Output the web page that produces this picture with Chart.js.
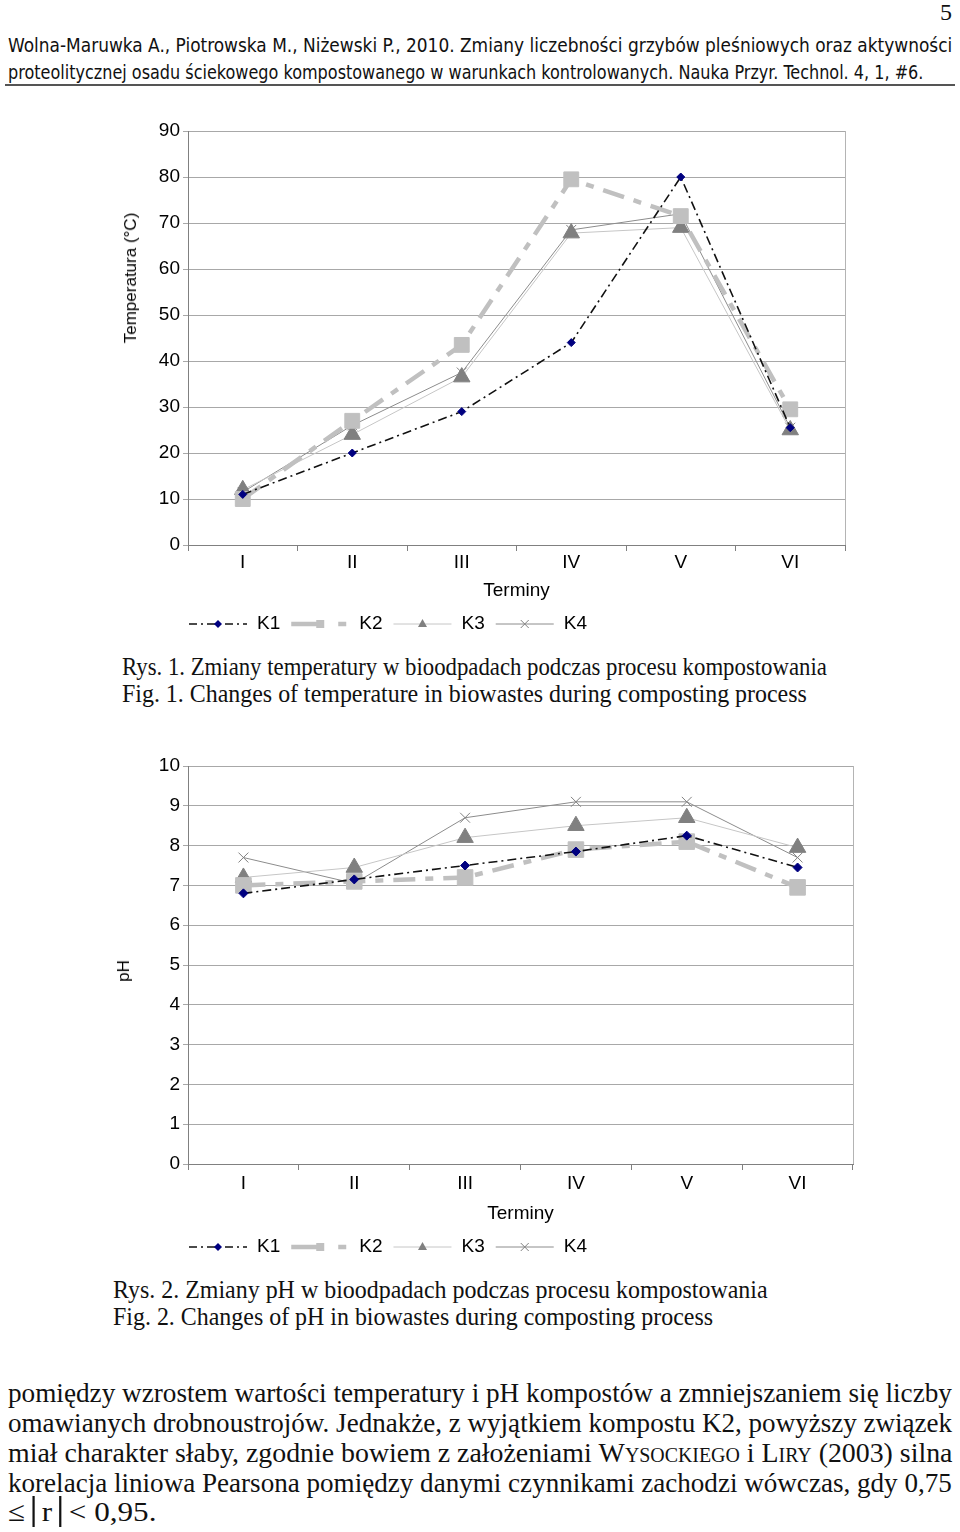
<!DOCTYPE html>
<html>
<head>
<meta charset="utf-8">
<script src="https://cdn.jsdelivr.net/npm/chart.js@4"></script>
<style>
html, body { margin: 0; padding: 0; background: #fff; }
#page { position: relative; width: 960px; height: 1532px; overflow: hidden; background: #fff; }
.ln { position: absolute; white-space: nowrap; transform-origin: 0 50%; line-height: 1; color: #111; }
.hdr { font-family: "Liberation Sans Narrow", "DejaVu Sans Condensed", "Liberation Sans", sans-serif; font-size: 19px; }
.ser { font-family: "Liberation Serif", "Times New Roman", serif; }
.cap { font-size: 25px; }
.par { font-size: 28px; }
.sc { font-variant: small-caps; }
.abs { position: absolute; }
.ytitle { position: absolute; font-family: "Liberation Sans", Arial, sans-serif; font-size: 17px; color: #000;
          white-space: nowrap; transform: translate(-50%, -50%) rotate(-90deg); }
</style>
</head>
<body>
<div id="page">
  <div class="ln ser" style="left:940px;top:12px;font-size:24px;">5</div>
  <div class="ln hdr" data-w="944" style="left:8px;top:45px;">Wolna-Maruwka A., Piotrowska M., Niżewski P., 2010. Zmiany liczebności grzybów pleśniowych oraz aktywności</div>
  <div class="ln hdr" data-w="915" style="left:8px;top:72px;">proteolitycznej osadu ściekowego kompostowanego w warunkach kontrolowanych. Nauka Przyr. Technol. 4, 1, #6.</div>
  <div class="abs" style="left:5px;top:84px;width:950px;height:2px;background:#555;"></div>

  <canvas id="tempChart" class="abs" width="960" height="550" style="left:0;top:100px;"></canvas>
  <div class="ytitle" style="left:131px;top:278px;">Temperatura (°C)</div>

  <div class="ln ser cap" data-w="705" style="left:122px;top:666px;">Rys. 1. Zmiany temperatury w bioodpadach podczas procesu kompostowania</div>
  <div class="ln ser cap" data-w="685" style="left:122px;top:693px;">Fig. 1. Changes of temperature in biowastes during composting process</div>

  <canvas id="phChart" class="abs" width="960" height="545" style="left:0;top:730px;"></canvas>
  <div class="ytitle" style="left:124px;top:971px;">pH</div>

  <div class="ln ser cap" data-w="655" style="left:113px;top:1289px;">Rys. 2. Zmiany pH w bioodpadach podczas procesu kompostowania</div>
  <div class="ln ser cap" data-w="600" style="left:113px;top:1316px;">Fig. 2. Changes of pH in biowastes during composting process</div>

  <div class="ln ser par" data-w="944" style="left:8px;top:1393px;">pomiędzy wzrostem wartości temperatury i pH kompostów a zmniejszaniem się liczby</div>
  <div class="ln ser par" data-w="944" style="left:8px;top:1423px;">omawianych drobnoustrojów. Jednakże, z wyjątkiem kompostu K2, powyższy związek</div>
  <div class="ln ser par" data-w="944" style="left:8px;top:1453px;">miał charakter słaby, zgodnie bowiem z założeniami <span class="sc">Wysockiego</span> i <span class="sc">Liry</span> (2003) silna</div>
  <div class="ln ser par" data-w="944" style="left:8px;top:1483px;">korelacja liniowa Pearsona pomiędzy danymi czynnikami zachodzi wówczas, gdy 0,75</div>
  <div class="ln ser par" data-w="149" style="left:8px;top:1512px;">≤ <span style="border-left:2px solid #111;border-right:2px solid #111;padding:0 6px;">r</span> &lt; 0,95.</div>
</div>

<script>
var terminy = ['I', 'II', 'III', 'IV', 'V', 'VI'];
var seriesNames = ['K1', 'K2', 'K3', 'K4'];

// temperatura (°C)
var tempK1 = [11, 20, 29, 44, 80, 25.5];
var tempK2 = [10, 27, 43.5, 79.5, 71.5, 29.5];
var tempK3 = [12, 24, 36.5, 67.8, 69, 25];
var tempK4 = [11.5, 26, 37.5, 68.5, 72, 25.5];
var tempTicks = [0, 10, 20, 30, 40, 50, 60, 70, 80, 90];

// pH
var phK1 = [6.8, 7.15, 7.5, 7.85, 8.25, 7.45];
var phK2 = [7.0, 7.1, 7.2, 7.9, 8.1, 6.95];
var phK3 = [7.2, 7.45, 8.2, 8.5, 8.7, 7.95];
var phK4 = [7.7, 7.05, 8.7, 9.1, 9.1, 7.7];
var phTicks = [0, 1, 2, 3, 4, 5, 6, 7, 8, 9, 10];

var axisFont = { family: '"Liberation Sans", Arial, sans-serif', size: 19 };

function makeDatasets(k1, k2, k3, k4, big) {
    return [{
        label: seriesNames[0], data: k1,
        borderColor: '#111', borderWidth: 1.6, borderDash: [9, 4, 2, 4],
        pointStyle: 'rectRot', pointRadius: big ? 4.5 : 4,
        pointBackgroundColor: '#000080', pointBorderColor: '#000080', pointBorderWidth: 1,
        legendDash: [8, 4, 2, 4]
    }, {
        label: seriesNames[1], data: k2,
        borderColor: '#c0c0c0', borderWidth: 4.5, borderDash: [22, 10, 8, 10],
        pointStyle: 'rect', pointRadius: big ? 11 : 10.5,
        pointBackgroundColor: '#c0c0c0', pointBorderColor: '#c0c0c0', pointBorderWidth: 1,
        legendDash: [31, 16, 8, 10]
    }, {
        label: seriesNames[2], data: k3,
        borderColor: '#c6c6c6', borderWidth: 1,
        pointStyle: 'triangle', pointRadius: 9.5,
        pointBackgroundColor: '#808080', pointBorderColor: '#808080', pointBorderWidth: 1
    }, {
        label: seriesNames[3], data: k4,
        borderColor: '#8c8c8c', borderWidth: 1,
        pointStyle: 'crossRot', pointRadius: 7,
        pointBackgroundColor: '#808080', pointBorderColor: '#808080', pointBorderWidth: 1
    }];
}

// right edge of the plot area
var frame = {
    id: 'frame',
    beforeDatasetsDraw: function (chart) {
        var a = chart.chartArea, ctx = chart.ctx;
        ctx.save();
        ctx.strokeStyle = '#b4b4b4';
        ctx.lineWidth = 1;
        ctx.beginPath();
        ctx.moveTo(Math.round(a.right) + 0.5, a.top);
        ctx.lineTo(Math.round(a.right) + 0.5, a.bottom);
        ctx.stroke();
        ctx.restore();
    }
};

function drawMark(ctx, style, x, y, fill, stroke) {
    ctx.fillStyle = fill;
    ctx.strokeStyle = stroke;
    ctx.lineWidth = 1;
    ctx.beginPath();
    if (style === 'rectRot') {
        ctx.moveTo(x - 4, y); ctx.lineTo(x, y - 4); ctx.lineTo(x + 4, y); ctx.lineTo(x, y + 4);
        ctx.closePath(); ctx.fill();
    } else if (style === 'rect') {
        ctx.rect(x - 4, y - 4, 8, 8); ctx.fill();
    } else if (style === 'triangle') {
        ctx.moveTo(x, y - 5); ctx.lineTo(x + 4.5, y + 3); ctx.lineTo(x - 4.5, y + 3);
        ctx.closePath(); ctx.fill();
    } else {
        ctx.moveTo(x - 4, y - 4); ctx.lineTo(x + 4, y + 4);
        ctx.moveTo(x + 4, y - 4); ctx.lineTo(x - 4, y + 4);
        ctx.stroke();
    }
}

// excel style legend: line sample with marker, then name
var legendLine = {
    id: 'legendLine',
    afterDraw: function (chart, args, o) {
        var ctx = chart.ctx, x = o.x, y = o.y;
        ctx.save();
        ctx.font = '19px "Liberation Sans", Arial, sans-serif';
        ctx.textBaseline = 'middle';
        chart.data.datasets.forEach(function (ds) {
            ctx.strokeStyle = ds.borderColor;
            ctx.lineWidth = ds.borderWidth;
            ctx.setLineDash(ds.legendDash || []);
            ctx.beginPath();
            ctx.moveTo(x, y);
            ctx.lineTo(x + o.sample, y);
            ctx.stroke();
            ctx.setLineDash([]);
            drawMark(ctx, ds.pointStyle, x + o.sample / 2, y, ds.pointBackgroundColor, ds.pointBorderColor);
            ctx.fillStyle = '#000';
            ctx.fillText(ds.label, x + o.sample + o.gap, y);
            x += o.sample + o.gap + ctx.measureText(ds.label).width + o.space;
        });
        ctx.restore();
    }
};

function makeChart(id, datasets, ticks, c) {
    return new Chart(document.getElementById(id), {
        type: 'line',
        data: { labels: terminy, datasets: datasets },
        options: {
            responsive: false,
            animation: false,
            layout: { padding: { top: c.padTop, right: c.padRight, bottom: c.padBottom, left: 0 } },
            elements: { line: { tension: 0 } },
            plugins: {
                legend: { display: false },
                tooltip: { enabled: false },
                legendLine: { x: 189, y: c.legendY, sample: 58, gap: 10, space: 11 }
            },
            scales: {
                x: {
                    offset: true,
                    grid: { drawOnChartArea: false, offset: true, tickLength: 6, color: '#808080' },
                    border: { color: '#808080' },
                    ticks: { font: axisFont, color: '#000', padding: c.tickPad, maxRotation: 0 },
                    title: { display: true, text: 'Terminy', font: axisFont, color: '#000', padding: { top: 0, bottom: c.titlePad } },
                    afterFit: function (s) { s.height = c.xH; }
                },
                y: {
                    min: 0, max: ticks[ticks.length - 1],
                    afterBuildTicks: function (s) { s.ticks = ticks.map(function (v) { return { value: v }; }); },
                    grid: { color: '#a8a8a8', tickLength: 5 },
                    border: { color: '#808080' },
                    ticks: { font: axisFont, color: '#000', padding: 3 },
                    afterFit: function (s) { s.width = 188; }
                }
            }
        },
        plugins: [frame, legendLine]
    });
}

makeChart('tempChart', makeDatasets(tempK1, tempK2, tempK3, tempK4, false), tempTicks,
    { padTop: 31, padRight: 115, padBottom: 45, xH: 60, tickPad: 0, titlePad: 3, legendY: 524 });

makeChart('phChart', makeDatasets(phK1, phK2, phK3, phK4, true), phTicks,
    { padTop: 36, padRight: 107, padBottom: 50, xH: 61, tickPad: 2, titlePad: 0, legendY: 517 });

// squeeze text lines to the widths of the scanned page
function fitLines() {
    document.querySelectorAll('.ln').forEach(function (el) {
        var tw = el.dataset.w ? parseFloat(el.dataset.w) : 0;
        var s = tw ? tw / el.offsetWidth : 1;
        el.style.transform = 'translateY(-50%) scaleX(' + s + ')';
    });
}
fitLines();
</script>
</body>
</html>
